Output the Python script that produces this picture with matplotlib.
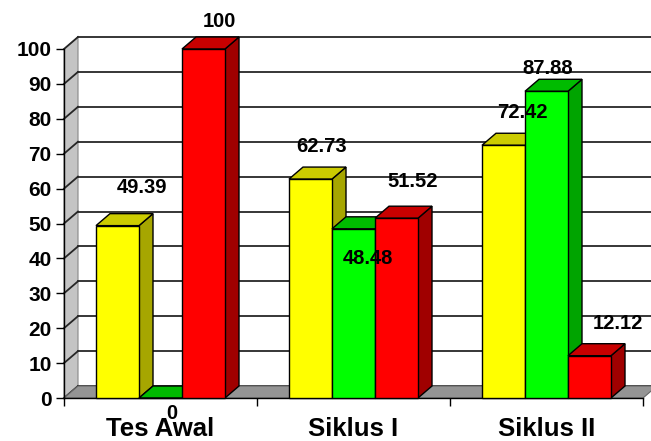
import numpy as np
import matplotlib.pyplot as plt
from matplotlib.patches import Polygon

plt.rcParams['font.family'] = ['Liberation Sans', 'DejaVu Sans']
plt.rcParams['font.weight'] = 'bold'

categories = ['Tes Awal', 'Siklus I', 'Siklus II']
yellow_vals = [49.39, 62.73, 72.42]
green_vals = [0, 48.48, 87.88]
red_vals = [100, 51.52, 12.12]
yticks = list(range(0, 101, 10))

series = [yellow_vals, green_vals, red_vals]
# front, top, side colours
colors = [('#ffff00', '#cccc00', '#a6a600'),
          ('#00ff00', '#00bb00', '#00a400'),
          ('#ff0000', '#c80000', '#a00000')]
# label offsets (dx, dy) as Excel placed them
lab_off = [[(0.127, 10.8), (0.055, 9.2), (0.10, 9.3)],
           [(0.06, -4.3), (0.075, -8.4), (0.008, 6.4)],
           [(0.08, 8.0), (0.085, 10.4), (0.147, 9.1)]]

W, H = 651, 441
fig = plt.figure(figsize=(W / 100, H / 100), dpi=100)
ax = fig.add_axes([64 / W, 43 / H, 579 / W, 349 / H])
ax.set_xlim(-0.5, 2.5)
ax.set_ylim(0, 100)

# depth offset in data units
dx = 14 / 193
dy = 12 / 3.49
bw = 43 / 193
x0, x1 = -0.5, 2.5

# back wall
ax.add_patch(Polygon([(x0 + dx, dy), (x1 + dx, dy), (x1 + dx, 100 + dy), (x0 + dx, 100 + dy)],
                     closed=True, facecolor='white', edgecolor='none', zorder=0, clip_on=False))
# side wall
ax.add_patch(Polygon([(x0, 0), (x0 + dx, dy), (x0 + dx, 100 + dy), (x0, 100)],
                     closed=True, facecolor='#c4c4c4', edgecolor='#888888', lw=0.8, zorder=1, clip_on=False))
for v in yticks:
    ax.plot([x0 + dx, x1 + dx], [v + dy, v + dy], color='#262626', lw=1.3, zorder=1, clip_on=False)
    ax.plot([x0, x0 + dx], [v, v + dy], color='#262626', lw=1.3, zorder=1, clip_on=False)
# floor
ax.add_patch(Polygon([(x0, 0), (x1, 0), (x1 + dx, dy), (x0 + dx, dy)],
                     closed=True, facecolor='#949494', edgecolor='#666666', lw=0.8, zorder=2, clip_on=False))

xs = np.arange(len(categories))
for i, vals in enumerate(series):
    front, top, side = colors[i]
    xc = xs + (i - 1) * bw
    z = 3 + 2 * i
    for x, h in zip(xc, vals):
        l, r = x - bw / 2, x + bw / 2
        ax.add_patch(Polygon([(r, 0), (r + dx, dy), (r + dx, h + dy), (r, h)], closed=True,
                             facecolor=side, edgecolor='black', lw=1, zorder=z, clip_on=False))
        ax.add_patch(Polygon([(l, h), (r, h), (r + dx, h + dy), (l + dx, h + dy)], closed=True,
                             facecolor=top, edgecolor='black', lw=1, zorder=z, clip_on=False))
    ax.bar(xc, vals, width=bw, color=front, edgecolor='black', linewidth=1, zorder=z + 1, clip_on=False)
    for j, (x, h) in enumerate(zip(xc, vals)):
        ox, oy = lab_off[i][j]
        ax.text(x + ox, h + oy, f'{h:g}', ha='center', va='center', fontsize=14.5,
                fontweight='bold', zorder=20)

for s in ['top', 'right']:
    ax.spines[s].set_visible(False)
for s in ['left', 'bottom']:
    ax.spines[s].set_linewidth(1)
    ax.spines[s].set_zorder(2.5)

ax.set_yticks(yticks)
ax.set_yticklabels([str(v) for v in yticks], fontsize=15, fontweight='bold')
ax.tick_params(axis='y', direction='out', length=6, width=1, pad=3)
ax.set_xticks([-0.5, 0.5, 1.5, 2.5])
ax.set_xticklabels([])
ax.tick_params(axis='x', which='major', direction='out', length=6, width=1)

# category labels just under the axis
for x, c in zip(xs, categories):
    ax.text(x, -10.9, c, ha='center', va='baseline', fontsize=18.5, fontweight='bold')

fig.savefig('out.png', dpi=100)
